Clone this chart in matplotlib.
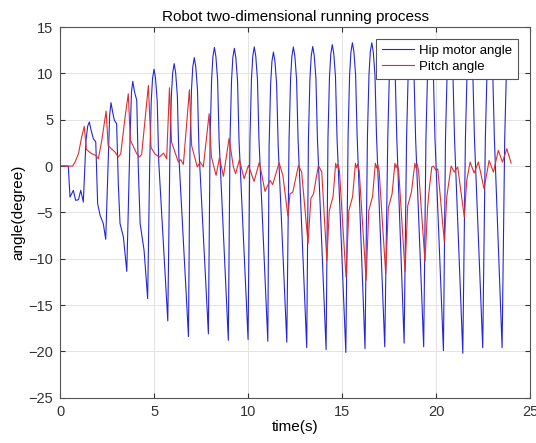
import matplotlib
matplotlib.use("Agg")
import matplotlib.pyplot as plt

# hip motor angle (time s, angle deg)
hip_t = [0, 0.44, 0.53, 0.71, 0.83, 0.98, 1.10, 1.24, 1.38, 1.47, 1.56, 1.65, 1.77, 1.90,
         2.00, 2.13, 2.30, 2.43, 2.57, 2.64, 2.71, 2.80, 2.89, 3.01, 3.10, 3.19, 3.37, 3.55,
         3.72, 3.80, 3.87, 3.96, 4.08, 4.16, 4.26, 4.47, 4.66,
         4.77, 4.85, 4.92, 5.00, 5.08, 5.17, 5.25, 5.73,
         5.84, 5.92, 5.99, 6.07, 6.15, 6.24, 6.32, 6.83,
         6.91, 6.99, 7.06, 7.14, 7.22, 7.31, 7.39, 7.89,
         7.98, 8.06, 8.13, 8.21, 8.29, 8.38, 8.46, 8.95,
         9.04, 9.12, 9.19, 9.27, 9.35, 9.44, 9.52, 10.00,
         10.10, 10.18, 10.25, 10.33, 10.41, 10.50, 10.58, 11.05,
         11.12, 11.20, 11.27, 11.35, 11.43, 11.52, 11.60, 12.06,
         12.18, 12.26, 12.33, 12.41, 12.49, 12.58, 12.66, 13.12,
         13.21, 13.29, 13.36, 13.44, 13.52, 13.61, 13.69, 14.15,
         14.25, 14.33, 14.40, 14.48, 14.56, 14.65, 14.73, 15.20,
         15.32, 15.40, 15.47, 15.55, 15.63, 15.72, 15.80, 16.22,
         16.35, 16.43, 16.50, 16.58, 16.66, 16.75, 16.83, 17.27,
         17.43, 17.51, 17.58, 17.66, 17.74, 17.83, 17.91, 18.30,
         18.43, 18.51, 18.58, 18.66, 18.74, 18.83, 18.91, 19.34,
         19.46, 19.54, 19.61, 19.69, 19.77, 19.86, 19.94, 20.39,
         20.50, 20.58, 20.65, 20.73, 20.81, 20.90, 20.98, 21.42,
         21.56, 21.64, 21.71, 21.79, 21.87, 21.96, 22.04, 22.48,
         22.62, 22.70, 22.77, 22.85, 22.93, 23.02, 23.10, 23.51,
         23.65, 23.73, 23.80, 23.88]
hip_v = [0, 0, -3.34, -2.62, -3.7, -3.63, -2.62, -3.88, 2.77, 4.3, 4.75, 3.9, 2.97, 2.6,
         -4.06, -5.3, -6.2, -7.9, 1.0, 5.5, 6.84, 5.8, 4.93, 4.57, -1.9, -6.2, -7.65, -11.36,
         2.77, 8.0, 9.14, 8.0, 7.1, 0.0, -6.2, -9.1, -14.3,
         0.45, 6.95, 9.45, 10.45, 9.45, 6.95, 0.45, -16.7,
         1.05, 7.55, 10.05, 11.05, 10.05, 7.55, 1.05, -18.4,
         1.7, 8.2, 10.7, 11.7, 10.7, 8.2, 1.7, -18.1,
         2.8, 9.3, 11.8, 12.8, 11.8, 9.3, 2.8, -18.8,
         2.7, 9.2, 11.7, 12.7, 11.7, 9.2, 2.7, -18.7,
         2.85, 9.35, 11.85, 12.85, 11.85, 9.35, 2.85, -18.9,
         2.3, 8.8, 11.3, 12.3, 11.3, 8.8, 2.3, -19.0,
         2.85, 9.35, 11.85, 12.85, 11.85, 9.35, 2.85, -19.6,
         2.9, 9.4, 11.9, 12.9, 11.9, 9.4, 2.9, -19.8,
         3.1, 9.6, 12.1, 13.1, 12.1, 9.6, 3.1, -20.1,
         3.3, 9.8, 12.3, 13.3, 12.3, 9.8, 3.3, -19.7,
         3.3, 9.8, 12.3, 13.3, 12.3, 9.8, 3.3, -19.5,
         3.0, 9.5, 12.0, 13.0, 12.0, 9.5, 3.0, -19.1,
         3.0, 9.5, 12.0, 13.0, 12.0, 9.5, 3.0, -19.5,
         3.0, 9.5, 12.0, 13.0, 12.0, 9.5, 3.0, -19.9,
         3.0, 9.5, 12.0, 13.0, 12.0, 9.5, 3.0, -20.2,
         3.0, 9.5, 12.0, 13.0, 12.0, 9.5, 3.0, -19.6,
         3.0, 9.5, 12.0, 13.0, 12.0, 9.5, 3.0, -19.6,
         3.0, 9.5, 12.0, 13.0]

# pitch angle
pitch_t = [0, 0.67, 0.80, 0.98, 1.15, 1.29, 1.40, 1.68, 1.90, 2.04, 2.22, 2.45, 2.56, 2.93,
           3.10, 3.23, 3.46, 3.63, 3.74, 4.08, 4.22, 4.34, 4.70, 4.84, 5.05, 5.28, 5.50, 5.67,
           5.82, 5.93, 6.29, 6.42, 6.56, 6.88, 7.00, 7.30, 7.45, 7.62, 7.93, 8.05, 8.30, 8.48,
           8.69, 8.99, 9.22, 9.34, 9.54, 9.79, 10.02, 10.32, 10.60, 10.90, 11.17, 11.31, 11.65,
           11.85, 12.12, 12.23, 12.38, 12.68, 12.85, 13.19, 13.34, 13.48, 13.74, 13.92, 14.19,
           14.32, 14.52, 14.66, 14.72, 14.78, 14.86, 15.21,
           15.36, 15.56, 15.71, 15.77, 15.83, 15.91, 16.28,
           16.42, 16.62, 16.77, 16.83, 16.89, 16.97, 17.32,
           17.46, 17.66, 17.81, 17.87, 17.93, 18.01, 18.35,
           18.49, 18.69, 18.87, 18.93, 18.99, 19.07, 19.41,
           19.55, 19.63, 19.77, 19.86, 20.00, 20.09, 20.44, 20.57, 20.80, 20.97, 21.15, 21.50,
           21.63, 21.81, 22.02, 22.25, 22.55, 22.82, 23.05, 23.31, 23.53, 23.76, 23.99]
pitch_v = [0, 0, 0.43, 1.33, 3.13, 4.28, 1.8, 1.33, 1.15, 0.8, 2.77, 5.94, 2.2, 1.5,
           0.97, 1.33, 5.3, 7.8, 2.8, 1.33, 0.97, 1.26, 8.7, 2.0, 1.3, 0.97, 1.4, 0.8,
           8.45, 2.6, 0.43, 0.69, 0.18, 8.24, 2.2, -0.1, 0.43, -0.1, 5.65, 1.0, -1.0, 0.9,
           -1.1, 3.0, -0.1, -0.82, 0.69, -1.36, 0.07, -1.65, 0.43, -2.73, -1.54, -2.0, 0.36,
           -1.0, -5.4, -3.0, -2.8, 0.07, -0.65, -8.35, -3.5, -3.0, 0.07, -0.65, -10.2,
           -4.8, -3.3, 0.3, -0.2, 0.2, -0.5, -12.0,
           -4.8, -3.3, 0.3, -0.2, 0.2, -0.5, -12.3,
           -4.8, -3.3, 0.3, -0.2, 0.2, -0.5, -11.6,
           -4.5, -3.0, 0.3, -0.2, 0.2, -0.5, -11.4,
           -4.3, -2.8, 0.3, -0.2, 0.2, -0.5, -10.3,
           -4.4, -2.6, -0.1, 0.0, -0.46, -0.3, -8.2, -3.3, 0.0, -0.65, -0.1, -5.5,
           -1.54, 0.43, -0.75, 0.43, -2.45, 0.6, -0.65, 1.7, 0.43, 1.87, 0.32]

xticks = [0, 5, 10, 15, 20, 25]
yticks = [-25, -20, -15, -10, -5, 0, 5, 10, 15]

plt.rcParams['font.family'] = ['Liberation Sans', 'DejaVu Sans']

fig = plt.figure(figsize=(5.36, 4.43), dpi=100)
ax = fig.add_axes([0.112, 0.102, 0.877, 0.837])

ax.plot(hip_t, hip_v, color=(0.15, 0.15, 0.85), lw=0.8, label='Hip motor angle')
ax.plot(pitch_t, pitch_v, color=(0.88, 0.18, 0.18), lw=0.8, label='Pitch angle')

ax.set_xlim(0, 25)
ax.set_ylim(-25, 15)
ax.set_xticks(xticks)
ax.set_yticks(yticks)
ax.grid(True, color='#e3e3e3', lw=0.7)
ax.set_axisbelow(True)
ax.tick_params(direction='in', top=True, right=True, length=3.5, labelsize=10.5,
               colors='#333333', pad=5)
for s in ax.spines.values():
    s.set_color('#555555')
    s.set_linewidth(0.8)

ax.set_title('Robot two-dimensional running process', fontsize=11, pad=4)
ax.set_xlabel('time(s)', fontsize=11, labelpad=1)
ax.set_ylabel('angle(degree)', fontsize=11, labelpad=2)

leg = ax.legend(loc='upper right', bbox_to_anchor=(0.975, 0.968), borderaxespad=0,
                fancybox=False, framealpha=1, edgecolor='#555555', fontsize=9.5,
                handlelength=2.4, borderpad=0.45, labelspacing=0.25, handletextpad=0.4)
leg.get_frame().set_linewidth(0.8)

fig.savefig('out.png', dpi=100)
